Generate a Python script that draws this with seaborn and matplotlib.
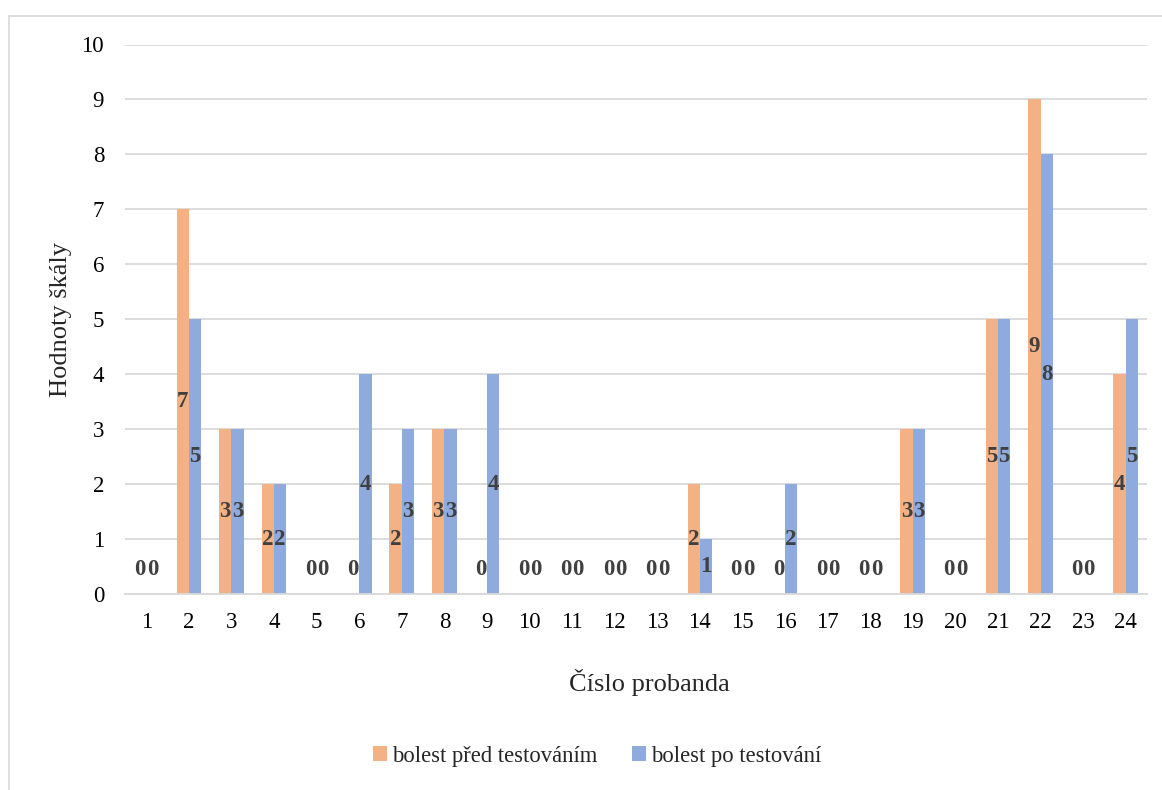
import matplotlib
matplotlib.use("Agg")
import matplotlib.pyplot as plt
import seaborn as sns
import pandas as pd
from matplotlib.lines import Line2D

probandi = [str(i) for i in range(1, 25)]
pred_testovanim = [0, 7, 3, 2, 0, 0, 2, 3, 0, 0, 0, 0, 0, 2, 0, 0, 0, 0, 3, 0, 5, 9, 0, 4]
po_testovani = [0, 5, 3, 2, 0, 4, 3, 3, 4, 0, 0, 0, 0, 1, 0, 2, 0, 0, 3, 0, 5, 8, 0, 5]
serie = ["bolest před testováním", "bolest po testování"]
y_ticks = list(range(0, 11))

df = pd.DataFrame({
    "proband": probandi * 2,
    "hodnota": pred_testovanim + po_testovani,
    "serie": [serie[0]] * len(probandi) + [serie[1]] * len(probandi),
})

sns.set_theme(style="white")
plt.rcParams["font.family"] = ["Liberation Serif", "DejaVu Serif"]

fig = plt.figure(figsize=(11.62, 7.9), dpi=100)
ax = fig.add_axes([125 / 1162, 1 - 594 / 790, (1147 - 125) / 1162, (594 - 44.5) / 790])

colors = ["#F4B183", "#8FAADC"]
sns.barplot(data=df, x="proband", y="hodnota", hue="serie", order=probandi,
            hue_order=serie, palette=colors, width=0.58, gap=0, saturation=1,
            linewidth=0, edgecolor="none", ax=ax, legend=True)

ax.set_ylim(0, 10)
ax.set_xlim(-0.5, len(probandi) - 0.5)
ax.set_yticks(y_ticks)
ax.set_yticklabels([str(t) for t in y_ticks], fontsize=16.5, color="#000000")
ax.set_xticks(range(len(probandi)))
ax.set_xticklabels(probandi, fontsize=16.5, color="#000000")
ax.tick_params(axis="y", length=0, pad=15)
ax.tick_params(axis="x", length=0, pad=13)
ax.yaxis.grid(True, color="#D9D9D9", linewidth=1.3)
ax.set_axisbelow(True)
for s in ["top", "right", "left"]:
    ax.spines[s].set_visible(False)
ax.spines["bottom"].set_color("#D9D9D9")
ax.spines["bottom"].set_linewidth(1.3)

ax.set_xlabel("Číslo probanda", fontsize=19, labelpad=26)
ax.xaxis.label.set_x((649 - 125) / 1022)
ax.set_ylabel("Hodnoty škály", fontsize=19, labelpad=7)

for cont in ax.containers:
    for bar in cont:
        h = bar.get_height()
        xc = bar.get_x() + bar.get_width() / 2
        ax.text(xc, max(h / 2, 0.45), f"{int(round(h))}", ha="center", va="center",
                fontsize=16.5, fontweight="bold", color="#404040")

leg = ax.legend(loc="center", bbox_to_anchor=((597 - 125) / 1022, -0.295), ncol=2,
                frameon=False, fontsize=16.3, handlelength=0.62, handleheight=0.62,
                handletextpad=0.25, columnspacing=1.5, title=None)

fig.add_artist(Line2D([8.5 / 1162, 1.0], [1 - 15.5 / 790, 1 - 15.5 / 790],
                      transform=fig.transFigure, color="#D9D9D9", linewidth=1.2))
fig.add_artist(Line2D([8.5 / 1162, 8.5 / 1162], [0, 1 - 15.5 / 790],
                      transform=fig.transFigure, color="#D9D9D9", linewidth=1.2))

fig.savefig("out.png", dpi=100, facecolor="white")
